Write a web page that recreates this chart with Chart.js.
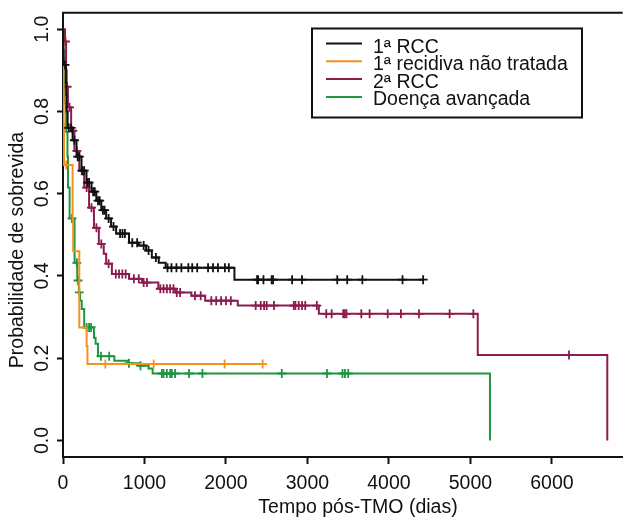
<!DOCTYPE html>
<html>
<head>
<meta charset="utf-8">
<script src="https://cdn.jsdelivr.net/npm/chart.js@4.4.0/dist/chart.umd.min.js"></script>
<style>
  html, body { margin: 0; padding: 0; background: #fff; overflow: hidden; }
  canvas { display: block; }
</style>
</head>
<body>
<canvas id="km-chart" width="629" height="522"></canvas>
<script>
// Kaplan-Meier curves: event times / survival after the event, plus censored times
const seriesLabels = ['1ª RCC', '1ª recidiva não tratada', '2ª RCC', 'Doença avançada'];
const seriesColors = ['#111111', '#f5921e', '#8c1c4e', '#1e9640'];

const rcc1EventT = [4, 8, 35, 40, 45, 57, 118, 166, 227, 288, 350, 409, 470, 530, 590, 652, 810, 930, 1020, 1090, 1175, 1260, 2104];
const rcc1EventS = [0.95, 0.913, 0.87, 0.84, 0.80, 0.76, 0.73, 0.69, 0.656, 0.627, 0.605, 0.583, 0.56, 0.54, 0.52, 0.503, 0.481, 0.474, 0.462, 0.445, 0.432, 0.42, 0.391];
const rcc1CensT = [25, 70, 100, 140, 180, 200, 240, 260, 300, 320, 370, 390, 430, 450, 490, 510, 560, 620, 700, 730, 760, 850, 910, 990, 1050, 1140,
  1283, 1331, 1392, 1453, 1538, 1586, 1647, 1780, 1841, 1902, 1987, 2035, 2382, 2395, 2460, 2561, 2578, 2812, 2933, 3366, 3488, 3674, 4167, 4420];

const recEventT = [3, 6, 9, 12, 118, 125, 200, 290, 300];
const recEventS = [0.92, 0.85, 0.77, 0.67, 0.54, 0.46, 0.275, 0.23, 0.186];
const recCensT = [40, 520, 1113, 1983, 2450];

const rcc2EventT = [25, 38, 45, 60, 100, 140, 200, 260, 320, 380, 440, 500, 530, 600, 810, 970, 1170, 1380, 1575, 1745, 2145, 3140, 5090, 6680];
const rcc2EventS = [0.97, 0.90, 0.86, 0.81, 0.753, 0.704, 0.656, 0.615, 0.566, 0.517, 0.478, 0.454, 0.43, 0.405, 0.393, 0.384, 0.369, 0.36, 0.352, 0.340, 0.328, 0.308, 0.208, 0];
const rcc2CensT = [30, 50, 80, 120, 170, 230, 290, 350, 410, 470, 560, 648, 688, 728, 769, 870, 930, 990, 1030, 1194, 1234, 1275, 1315, 1356, 1396, 1437,
  1620, 1690, 1820, 1880, 1940, 2000, 2060, 2365, 2427, 2468, 2500, 2589, 2832, 2852, 2893, 2933, 2973, 3115, 3231, 3297, 3439, 3459, 3479,
  3661, 3763, 3985, 4147, 4369, 4745, 5036, 6210];

const advEventT = [5, 10, 20, 40, 55, 61, 81, 142, 175, 195, 210, 230, 260, 380, 400, 430, 630, 800, 930, 1050, 1100, 5240];
const advEventS = [0.93, 0.88, 0.82, 0.75, 0.69, 0.615, 0.54, 0.432, 0.389, 0.36, 0.34, 0.32, 0.275, 0.25, 0.235, 0.205, 0.194, 0.188, 0.182, 0.175, 0.163, 0];
const advCensT = [110, 170, 185, 200, 290, 320, 345, 466, 567, 809, 951, 1214, 1234, 1274, 1316, 1335, 1376, 1546, 1711, 2685, 3240, 3430, 3460, 3500];

const xTicks = [0, 1000, 2000, 3000, 4000, 5000, 6000];
const yTicks = [0, 0.2, 0.4, 0.6, 0.8, 1.0];
const xMax = 6869;
const xTitle = 'Tempo pós-TMO (dias)';
const yTitle = 'Probabilidade de sobrevida';

// merge events and censorings into one step series; censored points get a "+" mark
function kmPoints(evT, evS, censT) {
  const pts = [{ x: 0, y: 1, c: false }];
  evT.forEach((t, i) => pts.push({ x: t, y: evS[i], c: false, k: 0 }));
  censT.forEach(t => {
    let s = 1;
    evT.forEach((et, i) => { if (et <= t) s = evS[i]; });
    pts.push({ x: t, y: s, c: true, k: 1 });
  });
  pts.sort((a, b) => a.x - b.x || (a.k || 0) - (b.k || 0));
  return pts;
}

const groups = [
  kmPoints(rcc1EventT, rcc1EventS, rcc1CensT),
  kmPoints(recEventT, recEventS, recCensT),
  kmPoints(rcc2EventT, rcc2EventS, rcc2CensT),
  kmPoints(advEventT, advEventS, advCensT)
];

const FONT = '"Liberation Sans", Arial, Helvetica, sans-serif';
Chart.defaults.font.family = FONT;

const extras = {
  id: 'extras',
  afterDraw(chart) {
    const ctx = chart.ctx, a = chart.chartArea;
    ctx.save();
    ctx.strokeStyle = '#111';
    ctx.lineWidth = 2;
    ctx.beginPath();
    ctx.moveTo(a.left - 1, a.top);
    ctx.lineTo(a.right, a.top);
    ctx.stroke();

    ctx.fillStyle = '#111';
    ctx.font = '19.5px ' + FONT;
    ctx.textAlign = 'center';
    ctx.textBaseline = 'alphabetic';
    ctx.fillText(xTitle, 358, 512.5);
    ctx.save();
    ctx.translate(23, 250);
    ctx.rotate(-Math.PI / 2);
    ctx.fillText(yTitle, 0, 0);
    ctx.restore();

    // legend box
    ctx.strokeRect(312, 28.5, 270, 89);
    ctx.textAlign = 'left';
    chart.data.datasets.forEach((ds, i) => {
      const ly = 43.5 + i * 17.8;
      ctx.strokeStyle = ds.borderColor;
      ctx.lineWidth = 2;
      ctx.beginPath();
      ctx.moveTo(326, ly);
      ctx.lineTo(362, ly);
      ctx.stroke();
      ctx.fillStyle = '#111';
      ctx.fillText(ds.label, 373, 53.3 + i * 17.1);
    });
    ctx.restore();
  }
};

new Chart(document.getElementById('km-chart'), {
  type: 'line',
  data: {
    datasets: groups.map((pts, i) => ({
      label: seriesLabels[i],
      data: pts,
      borderColor: seriesColors[i],
      backgroundColor: seriesColors[i],
      borderWidth: 2,
      stepped: 'before',
      fill: false,
      pointStyle: 'cross',
      pointRadius: c => (c.raw && c.raw.c ? 4.5 : 0),
      pointBorderWidth: 1.8,
      pointBorderColor: seriesColors[i],
      pointHitRadius: 0
    }))
  },
  options: {
    responsive: false,
    animation: false,
    layout: { padding: { top: 12, right: 0, bottom: 0, left: 0 } },
    plugins: { legend: { display: false }, tooltip: { enabled: false } },
    scales: {
      x: {
        type: 'linear', min: 0, max: xMax,
        afterBuildTicks: s => { s.ticks = xTicks.map(v => ({ value: v })); },
        afterFit: s => { s.height = 65; },
        border: { display: true, color: '#111', width: 2 },
        grid: { drawOnChartArea: false, drawTicks: true, tickLength: 7, tickColor: '#111', tickWidth: 2 },
        ticks: { color: '#111', font: { size: 19.5 }, padding: 8, maxRotation: 0, callback: v => String(v) }
      },
      y: {
        type: 'linear', min: -0.04, max: 1.04,
        afterBuildTicks: s => { s.ticks = yTicks.map(v => ({ value: v })); },
        afterFit: s => { s.width = 63; },
        border: { display: true, color: '#111', width: 2 },
        grid: { drawOnChartArea: false, drawTicks: true, tickLength: 6, tickColor: '#111', tickWidth: 2 },
        ticks: { color: '#111', font: { size: 19.5 }, padding: 1, minRotation: 90, maxRotation: 90, crossAlign: 'center', callback: v => v.toFixed(1) }
      }
    }
  },
  plugins: [extras]
});
</script>
</body>
</html>
